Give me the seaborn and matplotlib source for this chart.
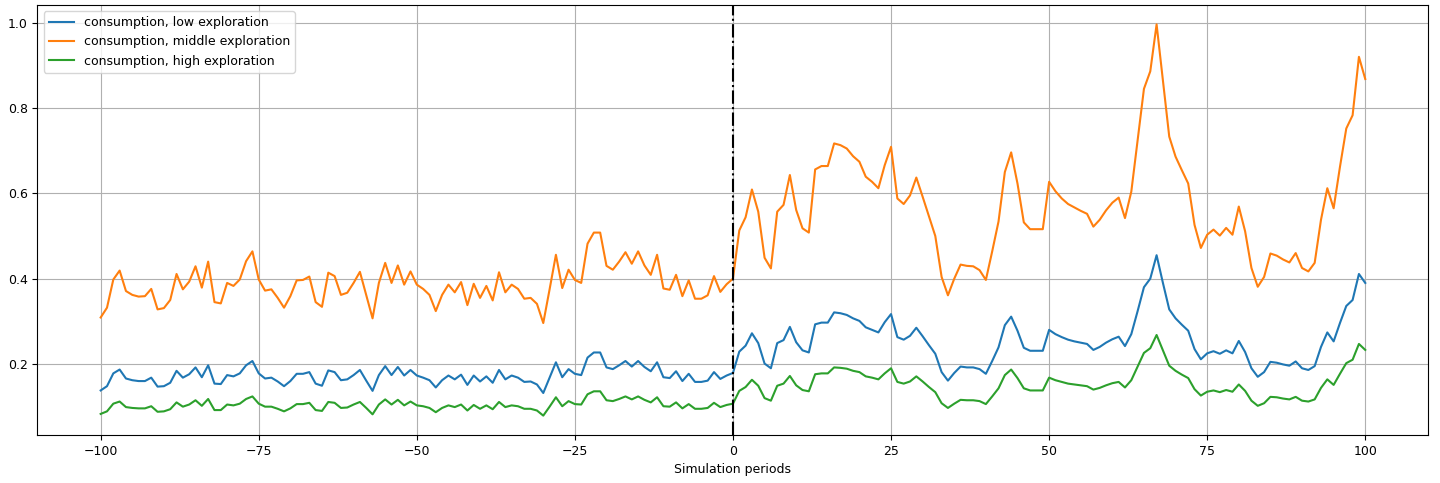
import matplotlib
matplotlib.use("Agg")
import matplotlib.pyplot as plt
import numpy as np
import pandas as pd
import seaborn as sns

plt.rcParams["font.size"] = 9

periods = list(range(-100, 101))

consumption_middle = [
    0.309, 0.332, 0.398, 0.419, 0.371, 0.362, 0.358, 0.359, 0.376, 0.328,
    0.331, 0.350, 0.411, 0.375, 0.393, 0.429, 0.379, 0.440, 0.345, 0.342,
    0.390, 0.383, 0.398, 0.441, 0.464, 0.398, 0.372, 0.375, 0.355, 0.332,
    0.359, 0.396, 0.397, 0.405, 0.345, 0.334, 0.414, 0.406, 0.362, 0.367,
    0.390, 0.416, 0.361, 0.307, 0.390, 0.437, 0.390, 0.431, 0.386, 0.417,
    0.386, 0.376, 0.362, 0.324, 0.362, 0.386, 0.368, 0.392, 0.338, 0.388,
    0.355, 0.383, 0.349, 0.415, 0.368, 0.386, 0.376, 0.353, 0.355, 0.341,
    0.296, 0.375, 0.456, 0.378, 0.421, 0.397, 0.390, 0.482, 0.508, 0.508,
    0.430, 0.421, 0.440, 0.462, 0.435, 0.464, 0.431, 0.409, 0.456, 0.377,
    0.374, 0.409, 0.359, 0.396, 0.353, 0.353, 0.361, 0.406, 0.369, 0.387,
    0.400,
    0.513, 0.544, 0.609, 0.557, 0.449, 0.424, 0.557, 0.573, 0.643, 0.561,
    0.518, 0.508, 0.656, 0.664, 0.664, 0.717, 0.713, 0.705, 0.687, 0.674,
    0.639, 0.627, 0.612, 0.666, 0.709, 0.588, 0.575, 0.595, 0.637, 0.592,
    0.546, 0.500, 0.404, 0.361, 0.400, 0.433, 0.430, 0.429, 0.420, 0.397,
    0.464, 0.534, 0.650, 0.696, 0.623, 0.532, 0.516, 0.516, 0.516, 0.627,
    0.605, 0.588, 0.575, 0.567, 0.559, 0.552, 0.522, 0.538, 0.560, 0.578,
    0.590, 0.542, 0.604, 0.724, 0.845, 0.886, 0.996, 0.865, 0.733, 0.686,
    0.654, 0.623, 0.526, 0.472, 0.503, 0.515, 0.501, 0.519, 0.503, 0.569,
    0.511, 0.425, 0.381, 0.404, 0.459, 0.454, 0.445, 0.438, 0.460, 0.425,
    0.417, 0.437, 0.538, 0.612, 0.565, 0.662, 0.752, 0.783, 0.920, 0.868,
]

consumption_low = [
    0.138, 0.148, 0.178, 0.187, 0.166, 0.162, 0.160, 0.160, 0.168, 0.147,
    0.148, 0.156, 0.184, 0.168, 0.176, 0.192, 0.169, 0.197, 0.154, 0.153,
    0.174, 0.171, 0.178, 0.197, 0.207, 0.178, 0.166, 0.168, 0.159, 0.148,
    0.160, 0.177, 0.177, 0.181, 0.154, 0.149, 0.185, 0.181, 0.162, 0.164,
    0.174, 0.186, 0.161, 0.137, 0.174, 0.195, 0.174, 0.193, 0.173, 0.186,
    0.173, 0.168, 0.162, 0.145, 0.162, 0.173, 0.164, 0.175, 0.151, 0.173,
    0.159, 0.171, 0.156, 0.186, 0.164, 0.173, 0.168, 0.158, 0.159, 0.152,
    0.132, 0.168, 0.204, 0.169, 0.188, 0.177, 0.174, 0.215, 0.227, 0.227,
    0.192, 0.188, 0.197, 0.207, 0.194, 0.207, 0.193, 0.183, 0.204, 0.169,
    0.167, 0.183, 0.160, 0.177, 0.158, 0.158, 0.161, 0.181, 0.165, 0.173,
    0.179,
    0.229, 0.243, 0.272, 0.249, 0.201, 0.190, 0.249, 0.256, 0.287, 0.251,
    0.232, 0.227, 0.293, 0.297, 0.297, 0.321, 0.319, 0.315, 0.307, 0.301,
    0.286, 0.280, 0.274, 0.298, 0.317, 0.263, 0.257, 0.266, 0.285, 0.265,
    0.244, 0.224, 0.181, 0.161, 0.179, 0.194, 0.192, 0.192, 0.188, 0.177,
    0.207, 0.239, 0.291, 0.311, 0.278, 0.238, 0.231, 0.231, 0.231, 0.280,
    0.270, 0.263, 0.257, 0.253, 0.250, 0.247, 0.233, 0.240, 0.250, 0.258,
    0.264, 0.242, 0.270, 0.324, 0.380, 0.400, 0.455, 0.390, 0.328, 0.307,
    0.292, 0.278, 0.235, 0.211, 0.225, 0.230, 0.224, 0.232, 0.225, 0.254,
    0.228, 0.190, 0.170, 0.181, 0.205, 0.203, 0.199, 0.196, 0.206, 0.190,
    0.186, 0.195, 0.240, 0.274, 0.253, 0.296, 0.336, 0.350, 0.411, 0.390,
]

consumption_high = [
    0.083, 0.089, 0.107, 0.112, 0.099, 0.097, 0.096, 0.096, 0.101, 0.088,
    0.089, 0.094, 0.110, 0.100, 0.105, 0.115, 0.102, 0.118, 0.092, 0.092,
    0.105, 0.103, 0.107, 0.118, 0.124, 0.107, 0.100, 0.100, 0.095, 0.089,
    0.096, 0.106, 0.106, 0.109, 0.092, 0.090, 0.111, 0.109, 0.097, 0.098,
    0.105, 0.111, 0.097, 0.082, 0.105, 0.117, 0.105, 0.116, 0.103, 0.112,
    0.103, 0.101, 0.097, 0.087, 0.097, 0.103, 0.099, 0.105, 0.091, 0.104,
    0.095, 0.103, 0.094, 0.111, 0.099, 0.103, 0.101, 0.095, 0.095, 0.091,
    0.079, 0.100, 0.122, 0.101, 0.113, 0.106, 0.105, 0.129, 0.136, 0.136,
    0.115, 0.113, 0.118, 0.124, 0.117, 0.124, 0.116, 0.110, 0.122, 0.101,
    0.100, 0.110, 0.096, 0.106, 0.095, 0.095, 0.097, 0.109, 0.099, 0.104,
    0.107,
    0.137, 0.146, 0.163, 0.149, 0.120, 0.114, 0.149, 0.154, 0.172, 0.150,
    0.139, 0.136, 0.176, 0.178, 0.178, 0.192, 0.191, 0.189, 0.184, 0.181,
    0.171, 0.168, 0.164, 0.178, 0.190, 0.158, 0.154, 0.159, 0.171, 0.159,
    0.146, 0.134, 0.108, 0.097, 0.107, 0.116, 0.115, 0.115, 0.113, 0.106,
    0.124, 0.143, 0.174, 0.187, 0.167, 0.143, 0.138, 0.138, 0.138, 0.168,
    0.162, 0.158, 0.154, 0.152, 0.150, 0.148, 0.140, 0.144, 0.150, 0.155,
    0.158, 0.145, 0.162, 0.194, 0.226, 0.237, 0.268, 0.232, 0.196, 0.184,
    0.175, 0.167, 0.141, 0.126, 0.135, 0.138, 0.134, 0.139, 0.135, 0.152,
    0.137, 0.114, 0.102, 0.108, 0.123, 0.122, 0.119, 0.117, 0.123, 0.114,
    0.112, 0.117, 0.144, 0.164, 0.151, 0.177, 0.202, 0.210, 0.247, 0.233,
]

series_labels = [
    "consumption, low exploration",
    "consumption, middle exploration",
    "consumption, high exploration",
]
series_colors = ["#1f77b4", "#ff7f0e", "#2ca02c"]

frames = []
for label, values in zip(series_labels,
                         [consumption_low, consumption_middle, consumption_high]):
    frames.append(pd.DataFrame({"period": periods, "value": values, "series": label}))
data = pd.concat(frames, ignore_index=True)

fig, ax = plt.subplots(figsize=(14.4, 4.83), dpi=100)
fig.subplots_adjust(left=0.026, right=0.992, top=0.99, bottom=0.099)

sns.lineplot(data=data, x="period", y="value", hue="series",
             hue_order=series_labels, palette=series_colors,
             linewidth=1.5, ax=ax, sort=True, estimator=None)

ax.axvline(0, color="black", linestyle="-.", linewidth=1.5)

ax.grid(True, color="#b0b0b0", linewidth=0.8)
ax.set_axisbelow(True)
ax.set_xlabel("Simulation periods")
ax.set_ylabel("")

handles, labels = ax.get_legend_handles_labels()
ax.legend(handles, labels, loc="upper left")

fig.savefig("out.png", dpi=100)
